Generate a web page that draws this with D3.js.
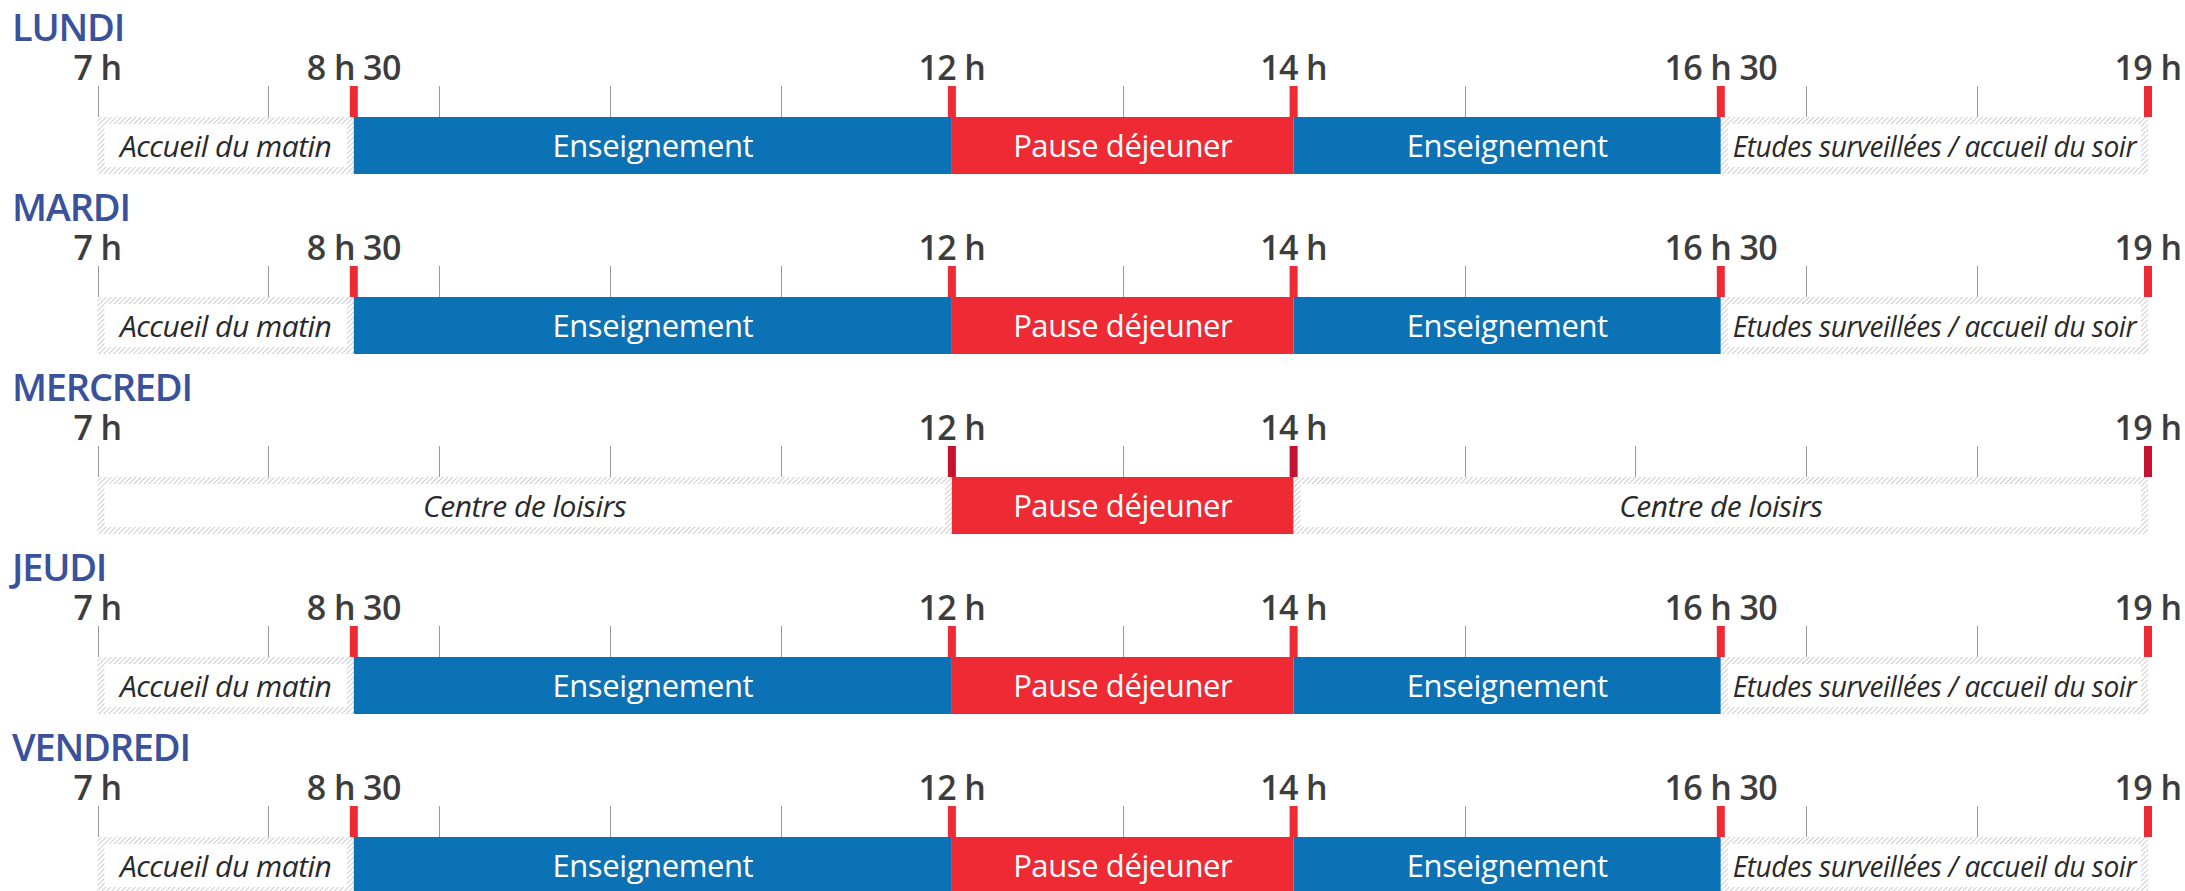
<!DOCTYPE html>
<html>
<head>
<meta charset="utf-8">
<script src="https://cdn.jsdelivr.net/npm/d3@7"></script>
<style>
  html, body { margin: 0; padding: 0; background: #fff; }
  svg { display: block; }
</style>
</head>
<body>
<svg id="chart" width="2185" height="891"></svg>
<script>
// jours de la semaine
var days = ['LUNDI', 'MARDI', 'MERCREDI', 'JEUDI', 'VENDREDI'];

// journée d'école (lundi, mardi, jeudi, vendredi)
var schoolStarts = [7, 8.5, 12, 14, 16.5];
var schoolEnds = [8.5, 12, 14, 16.5, 19];
var schoolLabels = ['Accueil du matin', 'Enseignement', 'Pause déjeuner', 'Enseignement', 'Etudes surveillées / accueil du soir'];
var schoolKinds = ['garde', 'cours', 'repas', 'cours', 'garde'];
var schoolTicks = [7, 8.5, 12, 14, 16.5, 19];
var schoolGrid = [7, 8, 9, 10, 11, 13, 15, 17, 18];

// mercredi
var wedStarts = [7, 12, 14];
var wedEnds = [12, 14, 19];
var wedLabels = ['Centre de loisirs', 'Pause déjeuner', 'Centre de loisirs'];
var wedKinds = ['garde', 'repas', 'garde'];
var wedTicks = [7, 12, 14, 19];
var wedGrid = [7, 8, 9, 10, 11, 13, 15, 16, 17, 18];

var svg = d3.select('#chart');

// hachures pour les cadres gris
var defs = svg.append('defs');
var pat = defs.append('pattern')
  .attr('id', 'hatch')
  .attr('patternUnits', 'userSpaceOnUse')
  .attr('width', 3.5)
  .attr('height', 3.5)
  .attr('patternTransform', 'rotate(45)');
pat.append('rect').attr('width', 3.5).attr('height', 3.5).attr('fill', '#fff');
pat.append('line')
  .attr('x1', 0).attr('y1', 0).attr('x2', 0).attr('y2', 3.5)
  .attr('stroke', '#c2c2c2')
  .attr('stroke-width', 1.6);

// échelle horaire
var x = d3.scaleLinear()
  .domain([7, 19])
  .range([97.5, 2148]);

var rowStep = 180;
var labelBase = 41;   // ligne de base du nom du jour
var tickBase = 80;    // ligne de base des heures
var tickTop = 86;
var barTop = 117;
var barH = 57;
var band = 7;

var colors = {
  cours: '#0c72b6',
  repas: '#ee2a34'
};

function fmt(h) {
  var m = Math.round((h % 1) * 60);
  return Math.floor(h) + ' h' + (m ? ' ' + m : '');
}

function fitText(sel, maxW) {
  sel.each(function() {
    var len = this.getComputedTextLength();
    if (len > maxW) {
      d3.select(this)
        .attr('textLength', maxW)
        .attr('lengthAdjust', 'spacingAndGlyphs');
    }
  });
}

days.forEach(function(day, i) {
  var wed = day === 'MERCREDI';
  var starts = wed ? wedStarts : schoolStarts;
  var ends = wed ? wedEnds : schoolEnds;
  var labels = wed ? wedLabels : schoolLabels;
  var kinds = wed ? wedKinds : schoolKinds;
  var ticks = wed ? wedTicks : schoolTicks;
  var grid = wed ? wedGrid : schoolGrid;
  var tickColor = wed ? '#c4122f' : '#ee2a34';

  var g = svg.append('g')
    .attr('transform', 'translate(0,' + (i * rowStep) + ')');

  // nom du jour
  g.append('text')
    .attr('x', 12)
    .attr('y', labelBase)
    .attr('fill', '#3a519b')
    .attr('font-family', 'Open Sans')
    .attr('font-weight', 600)
    .attr('font-size', 38)
    .attr('letter-spacing', -1.2)
    .text(day);

  // heures
  g.selectAll('.hour')
    .data(ticks)
    .enter().append('text')
    .attr('x', function(d) { return x(d); })
    .attr('y', tickBase)
    .attr('text-anchor', 'middle')
    .attr('fill', '#3d3d3d')
    .attr('font-family', 'Open Sans')
    .attr('font-weight', 600)
    .attr('font-size', 34)
    .attr('letter-spacing', -0.6)
    .text(fmt);

  // graduations grises
  g.selectAll('.grid')
    .data(grid)
    .enter().append('line')
    .attr('x1', function(d) { return Math.round(x(d)) + 0.5; })
    .attr('x2', function(d) { return Math.round(x(d)) + 0.5; })
    .attr('y1', tickTop)
    .attr('y2', barTop)
    .attr('stroke', '#9a9a9a')
    .attr('stroke-width', 1);

  // segments
  var segs = starts.map(function(s, j) {
    return { start: s, end: ends[j], label: labels[j], kind: kinds[j] };
  });

  segs.forEach(function(d) {
    var x0 = x(d.start), x1 = x(d.end), w = x1 - x0;
    if (d.kind === 'garde') {
      var p = 'M' + x0 + ',' + barTop + 'h' + w + 'v' + barH + 'h' + (-w) + 'Z' +
        'M' + (x0 + band) + ',' + (barTop + band) + 'v' + (barH - 2 * band) +
        'h' + (w - 2 * band) + 'v' + (-(barH - 2 * band)) + 'Z';
      g.append('path')
        .attr('d', p)
        .attr('fill', 'url(#hatch)')
        .attr('fill-rule', 'evenodd');
      g.append('text')
        .attr('x', (x0 + x1) / 2)
        .attr('y', barTop + 40)
        .attr('text-anchor', 'middle')
        .attr('fill', '#2a2a2a')
        .attr('font-family', 'Open Sans')
        .attr('font-style', 'italic')
        .attr('font-size', 30)
        .attr('letter-spacing', -0.5)
        .text(d.label)
        .call(fitText, w - 24);
    } else {
      g.append('rect')
        .attr('x', x0)
        .attr('y', barTop)
        .attr('width', w)
        .attr('height', barH)
        .attr('fill', colors[d.kind]);
      g.append('text')
        .attr('x', (x0 + x1) / 2)
        .attr('y', barTop + 40)
        .attr('text-anchor', 'middle')
        .attr('fill', '#fff')
        .attr('font-family', 'Open Sans')
        .attr('font-weight', 500)
        .attr('font-size', 31)
        .attr('letter-spacing', -0.4)
        .text(d.label);
    }
  });

  // graduations rouges aux changements de période
  g.selectAll('.mark')
    .data(ticks.filter(function(d) { return d > 7; }))
    .enter().append('rect')
    .attr('x', function(d) { return x(d) - 4; })
    .attr('y', tickTop)
    .attr('width', 8)
    .attr('height', barTop - tickTop)
    .attr('fill', tickColor);
});
</script>
</body>
</html>
